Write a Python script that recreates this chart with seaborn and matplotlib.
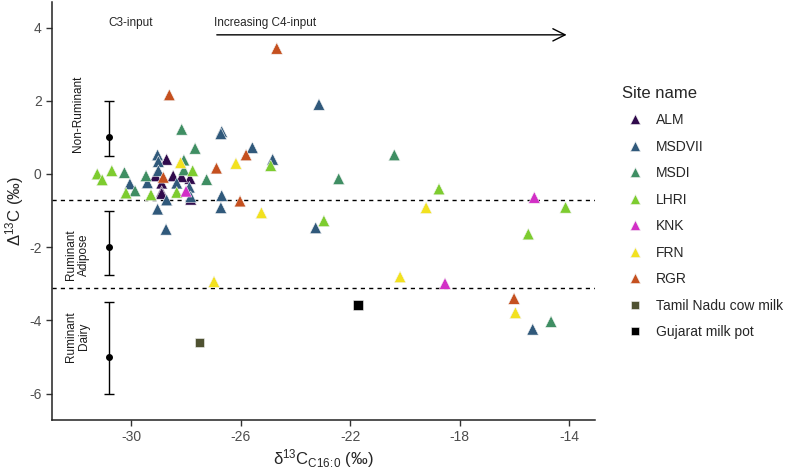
import pandas as pd
import seaborn as sns
import matplotlib.pyplot as plt

# site data: d13C16:0 (x) and D13C (y)
alm_x = [-28.70, -28.88, -28.88, -28.46, -27.85, -28.15, -27.82, -28.88, -29.10]
alm_y = [0.40, -0.25, -0.48, -0.05, -0.12, -0.07, -0.69, -0.53, -0.05]

msdvii_x = [-30.04, -29.40, -29.03, -29.00, -29.00, -28.33, -28.70, -29.03, -28.72,
            -27.87, -27.82, -26.69, -26.72, -26.69, -26.72, -25.57, -24.83, -23.14,
            -23.26, -15.34]
msdvii_y = [-0.27, -0.24, 0.52, 0.34, 0.09, -0.25, -0.71, -0.96, -1.51,
            -0.36, -0.62, 1.16, 1.10, -0.59, -0.92, 0.72, 0.40, 1.90,
            -1.47, -4.24]

msdi_x = [-30.24, -29.85, -29.45, -28.15, -28.07, -28.07, -27.66, -27.24, -22.42,
          -20.39, -14.67]
msdi_y = [0.04, -0.46, -0.05, 1.22, 0.38, 0.11, 0.70, -0.15, -0.13,
          0.52, -4.03]

lhri_x = [-31.23, -31.05, -30.70, -30.18, -29.27, -28.33, -27.75, -24.90, -22.96,
          -18.76, -15.50, -14.14]
lhri_y = [0.00, -0.16, 0.09, -0.52, -0.57, -0.50, 0.09, 0.23, -1.28,
          -0.41, -1.64, -0.91]

knk_x = [-27.99, -18.54, -15.28]
knk_y = [-0.47, -2.99, -0.64]

frn_x = [-28.19, -26.17, -25.24, -26.97, -20.18, -19.23, -15.97]
frn_y = [0.31, 0.29, -1.06, -2.94, -2.81, -0.92, -3.79]

rgr_x = [-28.60, -28.82, -26.88, -25.80, -24.68, -26.02, -16.02]
rgr_y = [2.16, -0.09, 0.16, 0.52, 3.43, -0.74, -3.40]

tamil_x = [-27.50]
tamil_y = [-4.60]

gujarat_x = [-21.72]
gujarat_y = [-3.58]

site_names = ["ALM", "MSDVII", "MSDI", "LHRI", "KNK", "FRN", "RGR",
              "Tamil Nadu cow milk", "Gujarat milk pot"]
site_colors = ["#300a4c", "#30597b", "#3f8e63", "#7dcc2f", "#d22fc6",
               "#f2e11f", "#c5501f", "#4f5232", "#000000"]
site_markers = ["^"] * 7 + ["s", "s"]
site_sizes = [70] * 7 + [48, 48]

# reference ranges (mean, low, high)
ref_labels = ["Non-Ruminant", "Ruminant\nAdipose", "Ruminant\nDairy"]
ref_mean = [1.0, -2.0, -5.0]
ref_low = [0.5, -2.75, -6.0]
ref_high = [2.0, -1.0, -3.5]
ref_x = -30.8
cutoffs = [-0.7, -3.1]

xs = [alm_x, msdvii_x, msdi_x, lhri_x, knk_x, frn_x, rgr_x, tamil_x, gujarat_x]
ys = [alm_y, msdvii_y, msdi_y, lhri_y, knk_y, frn_y, rgr_y, tamil_y, gujarat_y]
df = pd.concat(
    [pd.DataFrame({"x": x, "y": y, "site": name}) for x, y, name in zip(xs, ys, site_names)],
    ignore_index=True,
)

sns.set_style("ticks")
plt.rcParams["font.family"] = ["Liberation Sans", "DejaVu Sans"]
plt.rcParams["mathtext.default"] = "regular"
plt.rcParams["axes.unicode_minus"] = False

fig = plt.figure(figsize=(7.89, 4.72), dpi=100)
ax = fig.add_axes([0.066, 0.110, 0.688, 0.886])

for c in cutoffs:
    ax.axhline(c, color="black", lw=1, ls=(0, (3, 3)), zorder=1)

sns.scatterplot(
    data=df, x="x", y="y", hue="site", style="site", size="site",
    hue_order=site_names, style_order=site_names, size_order=site_names,
    palette=dict(zip(site_names, site_colors)),
    markers=dict(zip(site_names, site_markers)),
    sizes=dict(zip(site_names, site_sizes)),
    linewidth=0.4, edgecolor="#f4f4f4", ax=ax, zorder=3,
)

ax.errorbar(
    [ref_x] * 3, ref_mean,
    yerr=[[m - lo for m, lo in zip(ref_mean, ref_low)],
          [hi - m for m, hi in zip(ref_mean, ref_high)]],
    fmt="o", color="black", ms=4, capsize=3.8, elinewidth=1, capthick=1, zorder=2,
)

label_y = [1.64, -2.2, -4.43]
for txt, yy in zip(ref_labels, label_y):
    ax.text(-31.95, yy, txt, rotation=90, ha="center", va="center",
            multialignment="center", fontsize=8.5, color="#1a1a1a")

ax.text(-30.0, 4.13, "C3-input", ha="center", va="center", fontsize=8.5)
ax.text(-26.97, 4.13, "Increasing C4-input", ha="left", va="center", fontsize=8.5)
ax.annotate("", xy=(-14.0, 3.8), xytext=(-26.97, 3.8),
            arrowprops=dict(arrowstyle="->", color="black", lw=1,
                            mutation_scale=22))

ax.set_xlim(-32.88, -13.07)
ax.set_ylim(-6.72, 4.7)
ax.set_xticks([-30, -26, -22, -18, -14])
ax.set_yticks([-6, -4, -2, 0, 2, 4])
ax.tick_params(labelsize=10, labelcolor="#4d4d4d", length=4, width=1, color="#333333")
for side in ["top", "right"]:
    ax.spines[side].set_visible(False)
for side in ["left", "bottom"]:
    ax.spines[side].set_color("#222222")
    ax.spines[side].set_linewidth(1.1)

ax.set_xlabel(r"$\delta^{13}C_{C16\!:\!0}$ (‰)", fontsize=12, labelpad=2)
ax.set_ylabel(r"$\Delta^{13}C$ (‰)", fontsize=12, labelpad=2)

sns.move_legend(ax, "upper left", bbox_to_anchor=(0.772, 0.845),
                bbox_transform=fig.transFigure, frameon=False,
                title="Site name", fontsize=10, title_fontsize=12,
                labelspacing=0.9, handletextpad=0.5, markerscale=0.85)
ax.get_legend()._legend_box.align = "left"

fig.savefig("out.png", dpi=100)
